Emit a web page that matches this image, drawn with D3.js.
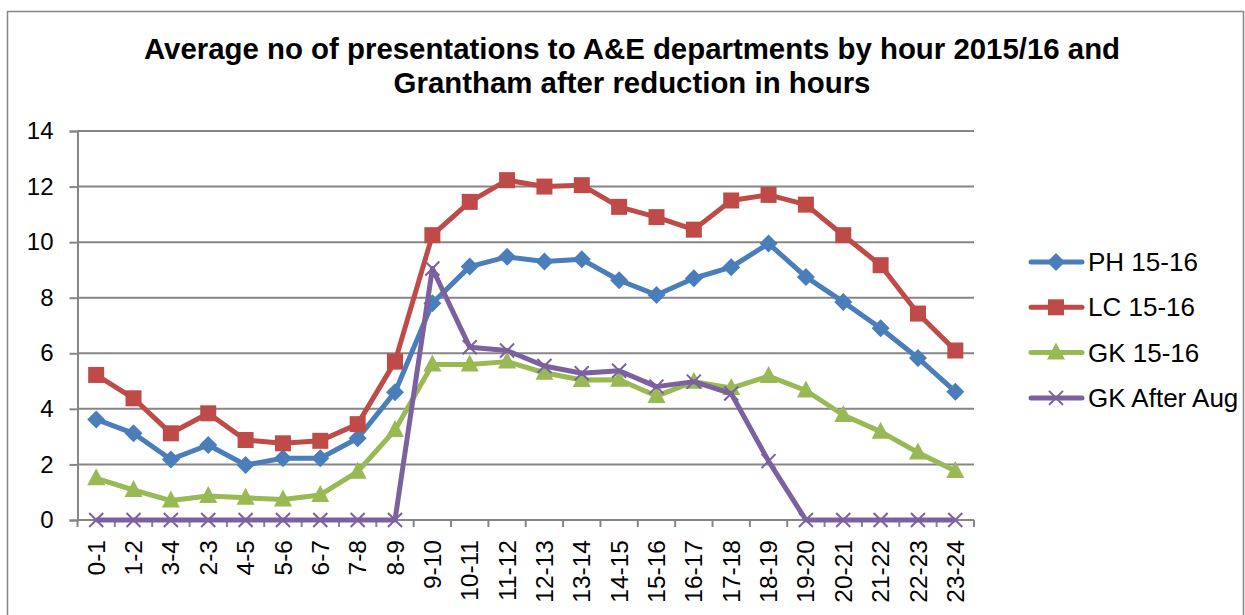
<!DOCTYPE html>
<html>
<head>
<meta charset="utf-8">
<script src="https://cdn.jsdelivr.net/npm/d3@7"></script>
<style>
  body { margin: 0; background: #fff; }
  svg { font-family: "Liberation Sans", Arial, sans-serif; }
</style>
</head>
<body>
<div id="chart"></div>
<script>
const hours = ['0-1','1-2','3-4','2-3','4-5','5-6','6-7','7-8','8-9','9-10','10-11','11-12',
  '12-13','13-14','14-15','15-16','16-17','17-18','18-19','19-20','20-21','21-22','22-23','23-24']

const ph = [3.62, 3.12, 2.18, 2.7, 1.98, 2.22, 2.22, 2.94, 4.6, 7.8, 9.12, 9.47,
  9.3, 9.38, 8.63, 8.1, 8.7, 9.1, 9.95, 8.75, 7.85, 6.9, 5.83, 4.62]
const lc = [5.22, 4.38, 3.12, 3.84, 2.88, 2.76, 2.85, 3.45, 5.7, 10.25, 11.45, 12.23,
  12.0, 12.05, 11.27, 10.9, 10.45, 11.5, 11.7, 11.35, 10.25, 9.17, 7.43, 6.1]
const gk = [1.5, 1.08, 0.7, 0.86, 0.8, 0.74, 0.9, 1.74, 3.24, 5.6, 5.6, 5.7,
  5.3, 5.04, 5.05, 4.46, 4.98, 4.75, 5.18, 4.66, 3.78, 3.18, 2.43, 1.76]
const gkAfter = [0, 0, 0, 0, 0, 0, 0, 0, 0, 9.05, 6.22, 6.1,
  5.54, 5.28, 5.37, 4.8, 4.98, 4.55, 2.12, 0, 0, 0, 0, 0]

const yTicks = [0, 2, 4, 6, 8, 10, 12, 14]

const series = [
  {name: 'PH 15-16', values: ph, color: '#4A7EBB', marker: 'diamond'},
  {name: 'LC 15-16', values: lc, color: '#BE4B48', marker: 'square'},
  {name: 'GK 15-16', values: gk, color: '#98B954', marker: 'triangle'},
  {name: 'GK After Aug', values: gkAfter, color: '#7D60A0', marker: 'cross'}
]

const width = 1245
const height = 615
const margin = {top: 131, left: 77.5, right: 271, bottom: 95}

const svg = d3.select('#chart')
  .append('svg')
  .attr('width', width)
  .attr('height', height)

// chart border
svg.append('rect')
  .attr('x', 7.5).attr('y', 11.5)
  .attr('width', 1236).attr('height', 640)
  .attr('fill', 'none')
  .attr('stroke', '#868686')
  .attr('stroke-width', 1.5)

const x = d3.scaleBand()
  .domain(hours)
  .range([margin.left, width - margin.right])

const y = d3.scaleLinear()
  .domain([0, 14])
  .range([height - margin.bottom, margin.top])

const cx = d => x(d) + x.bandwidth() / 2

// gridlines
svg.append('g')
  .selectAll('line')
  .data(yTicks)
  .join('line')
    .attr('x1', margin.left)
    .attr('x2', width - margin.right)
    .attr('y1', d => y(d))
    .attr('y2', d => y(d))
    .attr('stroke', '#868686')
    .attr('stroke-width', 2)

// y axis
svg.append('g')
  .attr('transform', `translate(${margin.left},0)`)
  .call(d3.axisLeft(y).tickValues(yTicks).tickSize(8).tickPadding(16).tickFormat(d3.format('d')))
  .call(g => g.selectAll('path, line').attr('stroke', '#868686').attr('stroke-width', 2))
  .call(g => g.selectAll('text').attr('font-size', '24px').attr('fill', '#000').attr('font-family', 'Liberation Sans, Arial'))

// x axis: ticks at category boundaries
const xAxisG = svg.append('g')
  .attr('transform', `translate(0,${y(0)})`)
xAxisG.append('line')
  .attr('x1', margin.left).attr('x2', width - margin.right)
  .attr('stroke', '#868686').attr('stroke-width', 2)
xAxisG.selectAll('line.tick')
  .data(hours.concat(['end']))
  .join('line')
    .attr('class', 'tick')
    .attr('x1', (d, i) => margin.left + i * x.step())
    .attr('x2', (d, i) => margin.left + i * x.step())
    .attr('y1', 0).attr('y2', 7)
    .attr('stroke', '#868686').attr('stroke-width', 2)
xAxisG.selectAll('text')
  .data(hours)
  .join('text')
    .attr('transform', d => `translate(${cx(d)},20) rotate(-90)`)
    .attr('text-anchor', 'end')
    .attr('dy', '0.35em')
    .attr('font-size', '24.5px')
    .text(d => d)

// lines
const line = d3.line()
  .x((d, i) => cx(hours[i]))
  .y(d => y(d))

function drawMarker(g, type, color) {
  if (type === 'diamond') {
    g.append('path').attr('d', 'M0,-9L9,0L0,9L-9,0Z').attr('fill', color)
  } else if (type === 'square') {
    g.append('rect').attr('x', -8).attr('y', -8).attr('width', 16).attr('height', 16).attr('fill', color)
  } else if (type === 'triangle') {
    g.append('path').attr('d', 'M0,-10L9,7L-9,7Z').attr('fill', color)
  } else {
    g.append('path').attr('d', 'M-7,-7L7,7M-7,7L7,-7').attr('stroke', color).attr('stroke-width', 2).attr('fill', 'none')
  }
}

series.forEach(s => {
  svg.append('path')
    .datum(s.values)
    .attr('fill', 'none')
    .attr('stroke', s.color)
    .attr('stroke-width', 5)
    .attr('stroke-linejoin', 'round')
    .attr('d', line)
  s.values.forEach((v, i) => {
    const g = svg.append('g').attr('transform', `translate(${cx(hours[i])},${y(v)})`)
    drawMarker(g, s.marker, s.color)
  })
})

// legend
const legend = svg.append('g')
series.forEach((s, i) => {
  const ly = 262 + i * 45.3
  legend.append('line')
    .attr('x1', 1031).attr('x2', 1082)
    .attr('y1', ly).attr('y2', ly)
    .attr('stroke', s.color).attr('stroke-width', 5).attr('stroke-linecap', 'round')
  drawMarker(legend.append('g').attr('transform', `translate(1056,${ly})`), s.marker, s.color)
  legend.append('text')
    .attr('x', 1088).attr('y', ly)
    .attr('dy', '0.35em')
    .attr('font-size', '26px')
    .text(s.name)
})

// title
const title = svg.append('text')
  .attr('x', 632)
  .attr('text-anchor', 'middle')
  .attr('font-size', '29.4px')
  .attr('font-weight', 'bold')
title.append('tspan').attr('x', 632).attr('y', 59).text('Average no of presentations to A&E departments by hour 2015/16 and')
title.append('tspan').attr('x', 632).attr('y', 93).text('Grantham after reduction in hours')
</script>
</body>
</html>
